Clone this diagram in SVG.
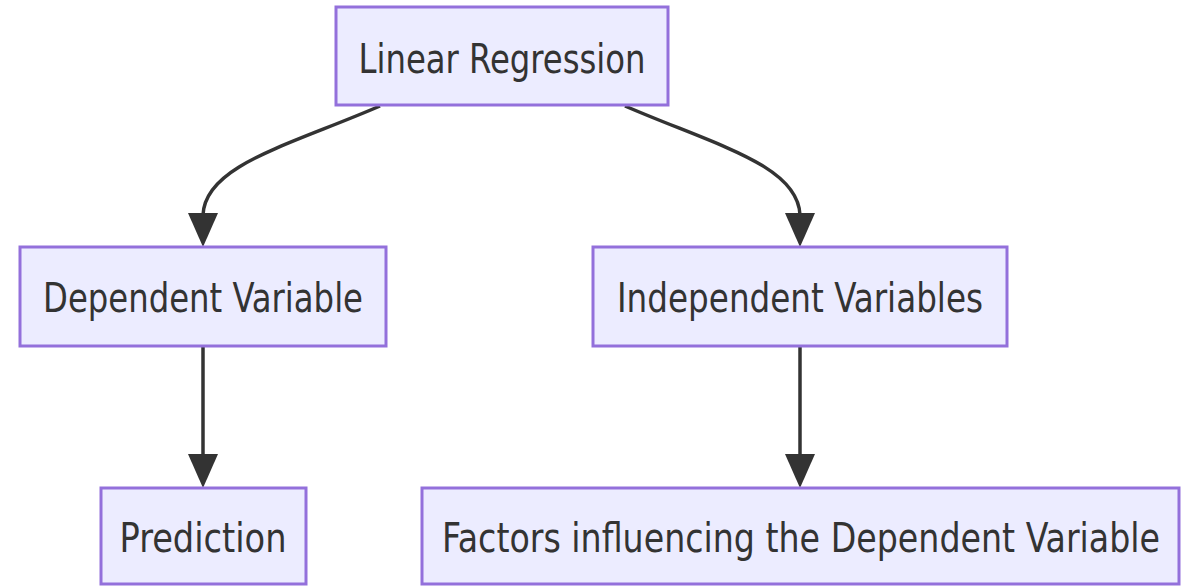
<svg xmlns="http://www.w3.org/2000/svg" width="1191" height="586" viewBox="0 0 1191 586">
  <style>
    .node rect { fill: #ECECFF; stroke: #9370DB; stroke-width: 3; }
    .node text { font-family: "DejaVu Sans Condensed", "DejaVu Sans", sans-serif; font-stretch: condensed; font-size: 40px; fill: #333333; text-anchor: middle; }
    .edge { fill: none; stroke: #333333; stroke-width: 3.5; }
    .head { fill: #333333; }
  </style>
  <rect width="1191" height="586" fill="#ffffff"/>

  <g id="edges">
    <path class="edge" d="M380,106 C290,145 205,165 203,215"/>
    <polygon class="head" points="188,213 218,213 203,247"/>
    <path class="edge" d="M625,106 C715,145 798,165 800,215"/>
    <polygon class="head" points="785,213 815,213 800,247"/>
    <path class="edge" d="M203,347 L203,456"/>
    <polygon class="head" points="188,454 218,454 203,488"/>
    <path class="edge" d="M800,347 L800,456"/>
    <polygon class="head" points="785,454 815,454 800,488"/>
  </g>

  <g id="linear-regression" class="node">
    <rect x="336" y="7" width="332" height="98"/>
    <text x="502" y="73" textLength="287" lengthAdjust="spacingAndGlyphs">Linear Regression</text>
  </g>
  <g id="dependent-variable" class="node">
    <rect x="20" y="247" width="366" height="99"/>
    <text x="203" y="312" textLength="320" lengthAdjust="spacingAndGlyphs">Dependent Variable</text>
  </g>
  <g id="independent-variables" class="node">
    <rect x="593" y="247" width="414" height="99"/>
    <text x="800" y="312" textLength="366" lengthAdjust="spacingAndGlyphs">Independent Variables</text>
  </g>
  <g id="prediction" class="node">
    <rect x="101" y="488" width="205" height="96"/>
    <text x="203" y="552" textLength="167" lengthAdjust="spacingAndGlyphs">Prediction</text>
  </g>
  <g id="factors" class="node">
    <rect x="422" y="488" width="757" height="96"/>
    <text x="801" y="552" textLength="718" lengthAdjust="spacingAndGlyphs">Factors influencing the Dependent Variable</text>
  </g>
</svg>
